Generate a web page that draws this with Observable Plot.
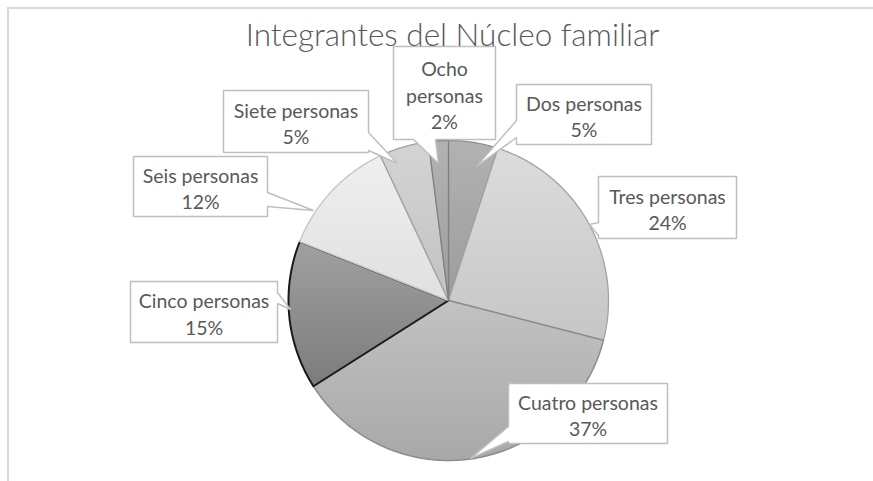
<!DOCTYPE html>
<html><head><meta charset="utf-8">
<script src="https://cdn.jsdelivr.net/npm/d3@7"></script>
<script src="https://cdn.jsdelivr.net/npm/@observablehq/plot@0.6"></script>
<style>
html,body{margin:0;padding:0;background:#fff;}
#wrap{position:relative;width:873px;height:481px;overflow:hidden;}
#frame{position:absolute;left:7px;top:7px;width:900px;height:500px;border-top:2px solid #d9d9d9;border-left:2px solid #d9d9d9;}
#chart{position:absolute;left:0;top:0;}
</style></head><body>
<div id="wrap"><div id="frame"></div><div id="chart"></div></div>
<script>
// ---- data ----
const title = "Integrantes del Núcleo familiar";
const categories = ["Dos personas","Tres personas","Cuatro personas","Cinco personas","Seis personas","Siete personas","Ocho personas"];
const values = [5, 24, 37, 15, 12, 5, 2];

// ---- styles ----
const sliceFill = [["#b2b2b2","#9c9c9c"],["#dcdcdc","#c6c6c6"],["#c2c2c2","#a8a8a8"],["#a0a0a0","#7c7c7c"],["#efefef","#e0e0e0"],["#d4d4d4","#c2c2c2"],["#b2b2b2","#9e9e9e"]];
const sliceStroke = ["#8f8f8f","#a3a3a3","#8c8c8c","#1a1a1a","#c6c6c6","#a0a0a0","#7f7f7f"];
const sliceStrokeWidth = [1.3,1.3,1.5,2,1.4,1.3,1.3];

// ---- layout (pixels) ----
const pie = {cx: 448, cy: 300, r: 160};
const calloutLayout = [
  {box:[516,84,651,144], edge:"left",   base:[120,137], tip:[476,166], wrap:false},
  {box:[598,176,736,238], edge:"left",  base:[222,235], tip:[589,224], wrap:false},
  {box:[508,383,667,443], edge:"left",  base:[426,441], tip:[470,458], wrap:false},
  {box:[130,281,277,342], edge:"right", base:[292,303], tip:[290,309], wrap:false},
  {box:[133,156,267,216], edge:"right", base:[192,206], tip:[313,210], wrap:false},
  {box:[223,90,368,152],  edge:"right", base:[132,150], tip:[397,163], wrap:false},
  {box:[393,46,495,139],  edge:"bottom",base:[413,435], tip:[438,163], wrap:true}
];

// ---- geometry from data ----
const arcs = d3.pie().sort(null).value(d => d)(values);
const slices = arcs.map((a, i) => {
  const pts = [{x: pie.cx, y: pie.cy}];
  const n = Math.max(6, Math.ceil((a.endAngle - a.startAngle) / 0.01));
  for (let k = 0; k <= n; k++) {
    const ang = a.startAngle + (a.endAngle - a.startAngle) * k / n;
    pts.push({x: pie.cx + pie.r * Math.sin(ang), y: pie.cy - pie.r * Math.cos(ang)});
  }
  return pts;
});

function callout(L, id) {
  const [x0,y0,x1,y1] = L.box; const a = Math.min(...L.base), b = Math.max(...L.base); const t = L.tip;
  const p = [[x0,y0]];
  if (L.edge === "top") p.push([a,y0], t, [b,y0]);
  p.push([x1,y0]);
  if (L.edge === "right") p.push([x1,a], t, [x1,b]);
  p.push([x1,y1]);
  if (L.edge === "bottom") p.push([b,y1], t, [a,y1]);
  p.push([x0,y1]);
  if (L.edge === "left") p.push([x0,b], t, [x0,a]);
  return p.map(([x,y]) => ({x, y, id}));
}
const calloutPts = calloutLayout.flatMap((L, i) => callout(L, i));
const labels = categories.map((c, i) => {
  const L = calloutLayout[i];
  const name = L.wrap ? c.replace(" ", "\n") : c;
  return {x: (L.box[0] + L.box[2]) / 2, y: (L.box[1] + L.box[3]) / 2 + 1, text: name + "\n" + values[i] + "%"};
});

const order = [0,1,2,3,4,5,6];
const sliceMarks = order.map(i => Plot.line(slices[i], {
  x: "x", y: "y", fill: `url(#g${i})`, stroke: sliceStroke[i], strokeWidth: sliceStrokeWidth[i],
  curve: "linear-closed", strokeLinejoin: "round"
}));

const svg = Plot.plot({
  width: 873, height: 481, margin: 0,
  x: {domain: [0, 873], range: [0, 873], axis: null},
  y: {domain: [0, 481], range: [0, 481], axis: null},
  style: {background: "transparent", overflow: "visible"},
  marks: [
    ...sliceMarks,
    Plot.line(calloutPts, {x: "x", y: "y", z: "id", fill: "white", stroke: "#bfbfbf", strokeWidth: 1.5, curve: "linear-closed", strokeLinejoin: "miter"}),
    Plot.text(labels, {x: "x", y: "y", text: "text", fontFamily: "Lato", fontSize: 19.5, fill: "#595959", lineHeight: 1.36, textAnchor: "middle", lineAnchor: "middle"}),
    Plot.text([title], {x: 452, y: 35, text: d => d, fontFamily: "Lato", fontWeight: 300, fontSize: 31.5, fill: "#595959", textAnchor: "middle", lineAnchor: "middle"})
  ]
});

const ns = "http://www.w3.org/2000/svg";
const defs = document.createElementNS(ns, "defs");
sliceFill.forEach(([c1, c2], i) => {
  const g = document.createElementNS(ns, "linearGradient");
  g.setAttribute("id", "g" + i);
  g.setAttribute("x1", "0"); g.setAttribute("y1", "0"); g.setAttribute("x2", "0"); g.setAttribute("y2", "1");
  [[0, c1], [1, c2]].forEach(([o, c]) => {
    const s = document.createElementNS(ns, "stop");
    s.setAttribute("offset", o); s.setAttribute("stop-color", c);
    g.appendChild(s);
  });
  defs.appendChild(g);
});
svg.insertBefore(defs, svg.firstChild);
document.getElementById("chart").appendChild(svg);
</script>
</body></html>
